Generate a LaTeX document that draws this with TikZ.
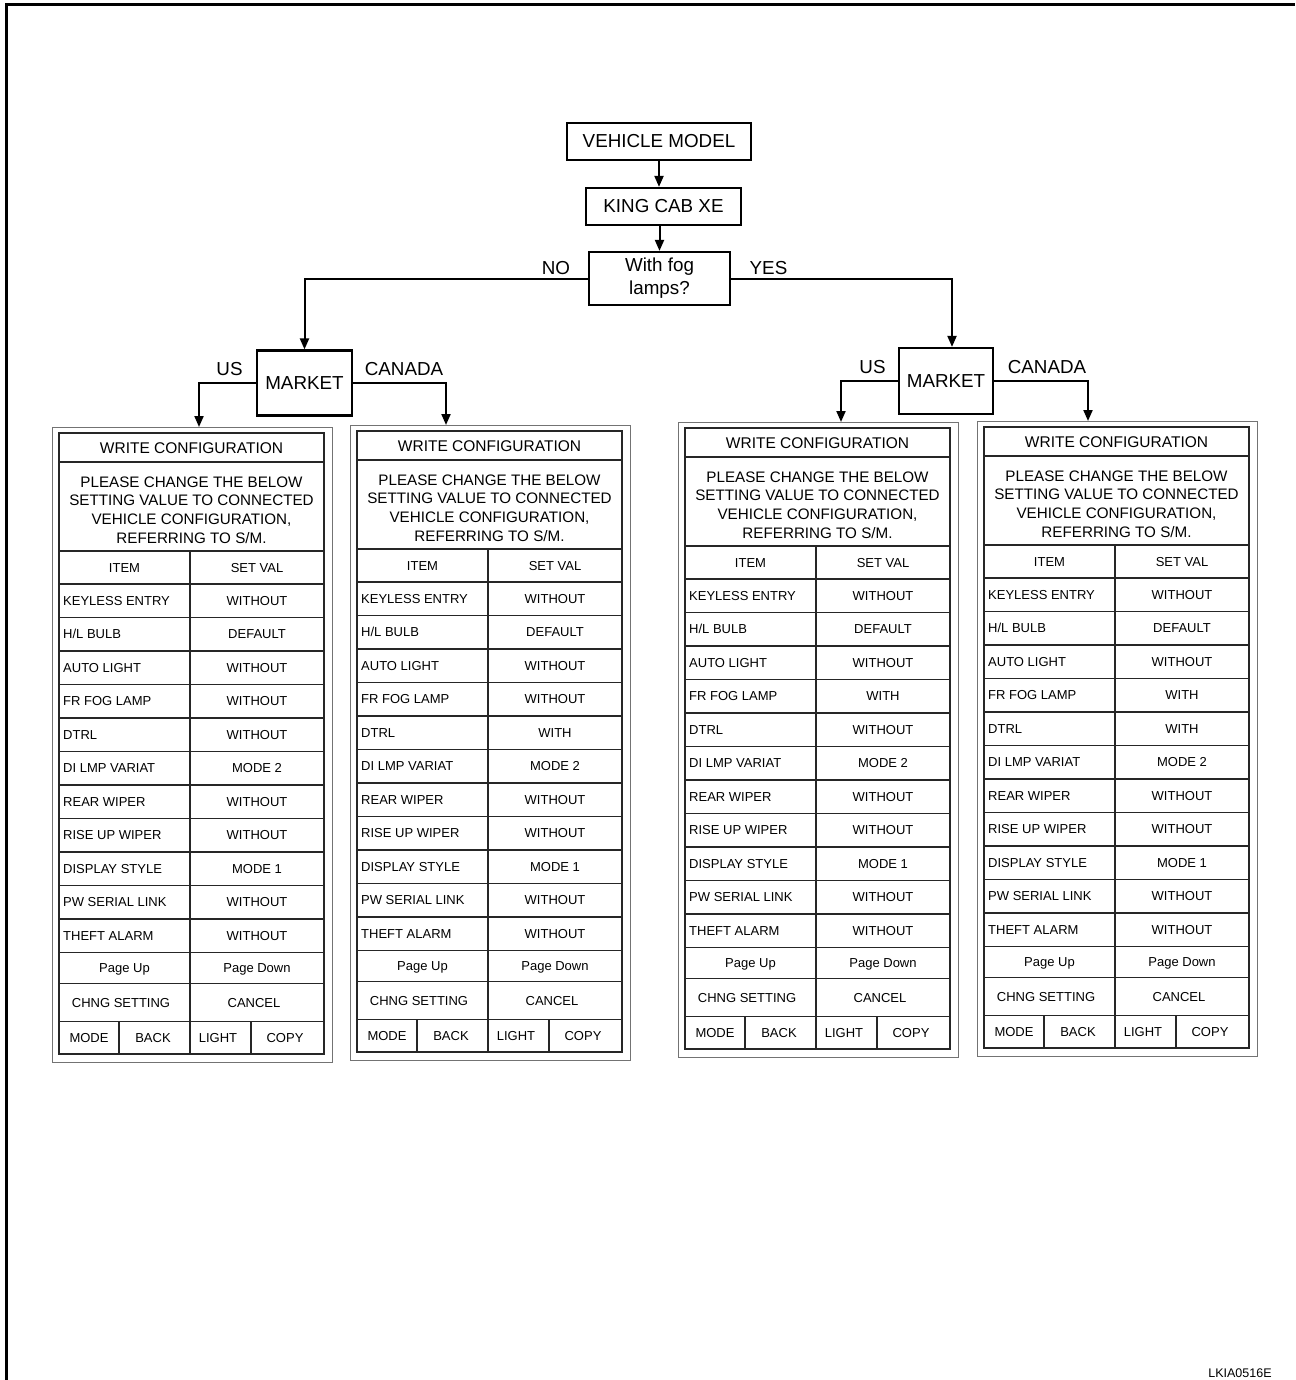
\documentclass[tikz,border=0pt]{standalone}
\usepackage{fontspec}
\setmainfont{Liberation Sans}
\usetikzlibrary{arrows.meta}

\tikzset{
  flowbox/.style={draw, line width=2.2pt, inner sep=0pt, align=center,
    font=\fontsize{18.8}{23}\selectfont},
  flowlabel/.style={inner sep=0pt, font=\fontsize{18.8}{22}\selectfont,
    text height=13.4pt, text depth=0pt},
  link/.style={line width=2pt, -{Triangle[length=11pt,width=9pt]}},
  frameline/.style={line width=3pt},
  outerbox/.style={draw=black!55, line width=1.3pt, inner sep=0pt,
    minimum width=280pt, minimum height=635pt, anchor=north west},
  tblline/.style={draw=black!85, line width=1.3pt},
  cell/.style={inner sep=0pt, font=\fontsize{13}{15}\selectfont,
    text height=9.3pt, text depth=0pt},
  titlecell/.style={inner sep=0pt, font=\fontsize{15.5}{18}\selectfont,
    text height=11.1pt, text depth=0pt},
  notecell/.style={inner sep=0pt, align=center,
    font=\fontsize{15.2}{18.6}\selectfont},
  tag/.style={inner sep=0pt, font=\fontsize{12.5}{14}\selectfont}
}

% one setting row of a configuration screen
\newcommand\cfgrow[4]{%
  \node[cell, anchor=west] (#1-i#2) at (4,{151+33.5*#2-16.75}) {#3};
  \node[cell] (#1-v#2) at (198,{151+33.5*#2-16.75}) {#4};
}

% a complete configuration screen: name, left, top, FR FOG value, DTRL value
\newcommand\cfgtable[5]{%
\begin{scope}[shift={(#2,#3)}]
  \node[outerbox] (#1o) at (-7,-6) {};
  \draw[tblline] (0,0) rectangle (265,621);
  \foreach \yy in {29,118,151,184.5,218,251.5,285,318.5,352,385.5,419,452.5,486,519.5,550.5,588.5}
    \draw[tblline] (0,\yy) -- (265,\yy);
  \draw[tblline] (131,118) -- (131,621);
  \draw[tblline] (60,588.5) -- (60,621) (192,588.5) -- (192,621);
  \node[titlecell] (#1-title) at (132.5,14.5) {WRITE CONFIGURATION};
  \node[notecell] (#1-note) at (132.5,77)
    {PLEASE CHANGE THE BELOW\\SETTING VALUE TO CONNECTED\\VEHICLE CONFIGURATION,\\REFERRING TO S/M.};
  \node[cell] (#1-hi) at (65.5,134.5) {ITEM};
  \node[cell] (#1-hv) at (198,134.5) {SET VAL};
  \cfgrow{#1}{1}{KEYLESS ENTRY}{WITHOUT}
  \cfgrow{#1}{2}{H/L BULB}{DEFAULT}
  \cfgrow{#1}{3}{AUTO LIGHT}{WITHOUT}
  \cfgrow{#1}{4}{FR FOG LAMP}{#4}
  \cfgrow{#1}{5}{DTRL}{#5}
  \cfgrow{#1}{6}{DI LMP VARIAT}{MODE 2}
  \cfgrow{#1}{7}{REAR WIPER}{WITHOUT}
  \cfgrow{#1}{8}{RISE UP WIPER}{WITHOUT}
  \cfgrow{#1}{9}{DISPLAY STYLE}{MODE 1}
  \cfgrow{#1}{10}{PW SERIAL LINK}{WITHOUT}
  \cfgrow{#1}{11}{THEFT ALARM}{WITHOUT}
  \node[cell] (#1-pu) at (65.5,535) {Page Up};
  \node[cell] (#1-pd) at (198,535) {Page Down};
  \node[cell] (#1-cs) at (62,569.5) {CHNG SETTING};
  \node[cell] (#1-cc) at (195,569.5) {CANCEL};
  \node[cell] (#1-mode) at (30,605) {MODE};
  \node[cell] (#1-back) at (94,605) {BACK};
  \node[cell] (#1-light) at (159,605) {LIGHT};
  \node[cell] (#1-copy) at (226,605) {COPY};
\end{scope}
}

\begin{document}
\begin{tikzpicture}[x=1pt, y=-1pt]
  \useasboundingbox (0,0) rectangle (1295,1380);

  % sheet frame (left and top edges)
  \draw[frameline] (6.5,1380) -- (6.5,4.5) -- (1295,4.5);

  % decision chart
  \node[flowbox, minimum width=184pt, minimum height=37pt] (vm) at (659,141.5) {VEHICLE MODEL};
  \node[flowbox, minimum width=155pt, minimum height=37pt] (kc) at (663.5,206.5) {KING CAB XE};
  \node[flowbox, minimum width=141pt, minimum height=53pt] (fog) at (659.5,278.5) {With fog\\lamps?};
  \node[flowbox, minimum width=95pt, minimum height=65pt] (m1) at (304.5,383) {MARKET};
  \node[flowbox, minimum width=94pt, minimum height=66pt] (m2) at (946,381) {MARKET};

  \node[flowlabel] (no) at (556,268) {NO};
  \node[flowlabel] (yes) at (768.5,268) {YES};
  \node[flowlabel] (us1) at (229.5,369) {US};
  \node[flowlabel] (ca1) at (404,369) {CANADA};
  \node[flowlabel] (us2) at (872.5,367) {US};
  \node[flowlabel] (ca2) at (1047,367) {CANADA};

  % configuration screens
  \cfgtable{t1}{59}{433}{WITHOUT}{WITHOUT}
  \cfgtable{t2}{357}{431}{WITHOUT}{WITH}
  \cfgtable{t3}{685}{428}{WITH}{WITHOUT}
  \cfgtable{t4}{984}{427}{WITH}{WITH}

  \coordinate (in1) at (199,427);
  \coordinate (in2) at (446,425);
  \coordinate (in3) at (841,422);
  \coordinate (in4) at (1088,421);

  % connectors
  \draw[link] (vm.south) -- (vm.south |- kc.north);
  \draw[link] (kc.south -| fog.north) -- (fog.north);
  \draw[link] (fog.west) -| (m1.north);
  \draw[link] (fog.east) -| ([xshift=6pt]m2.north);
  \draw[link] (m1.west) -| (in1);
  \draw[link] (m1.east) -| (in2);
  \draw[link] (m2.west) -| (in3);
  \draw[link] (m2.east) -| (in4);

  \node[tag] (code) at (1240,1373) {LKIA0516E};
\end{tikzpicture}
\end{document}
